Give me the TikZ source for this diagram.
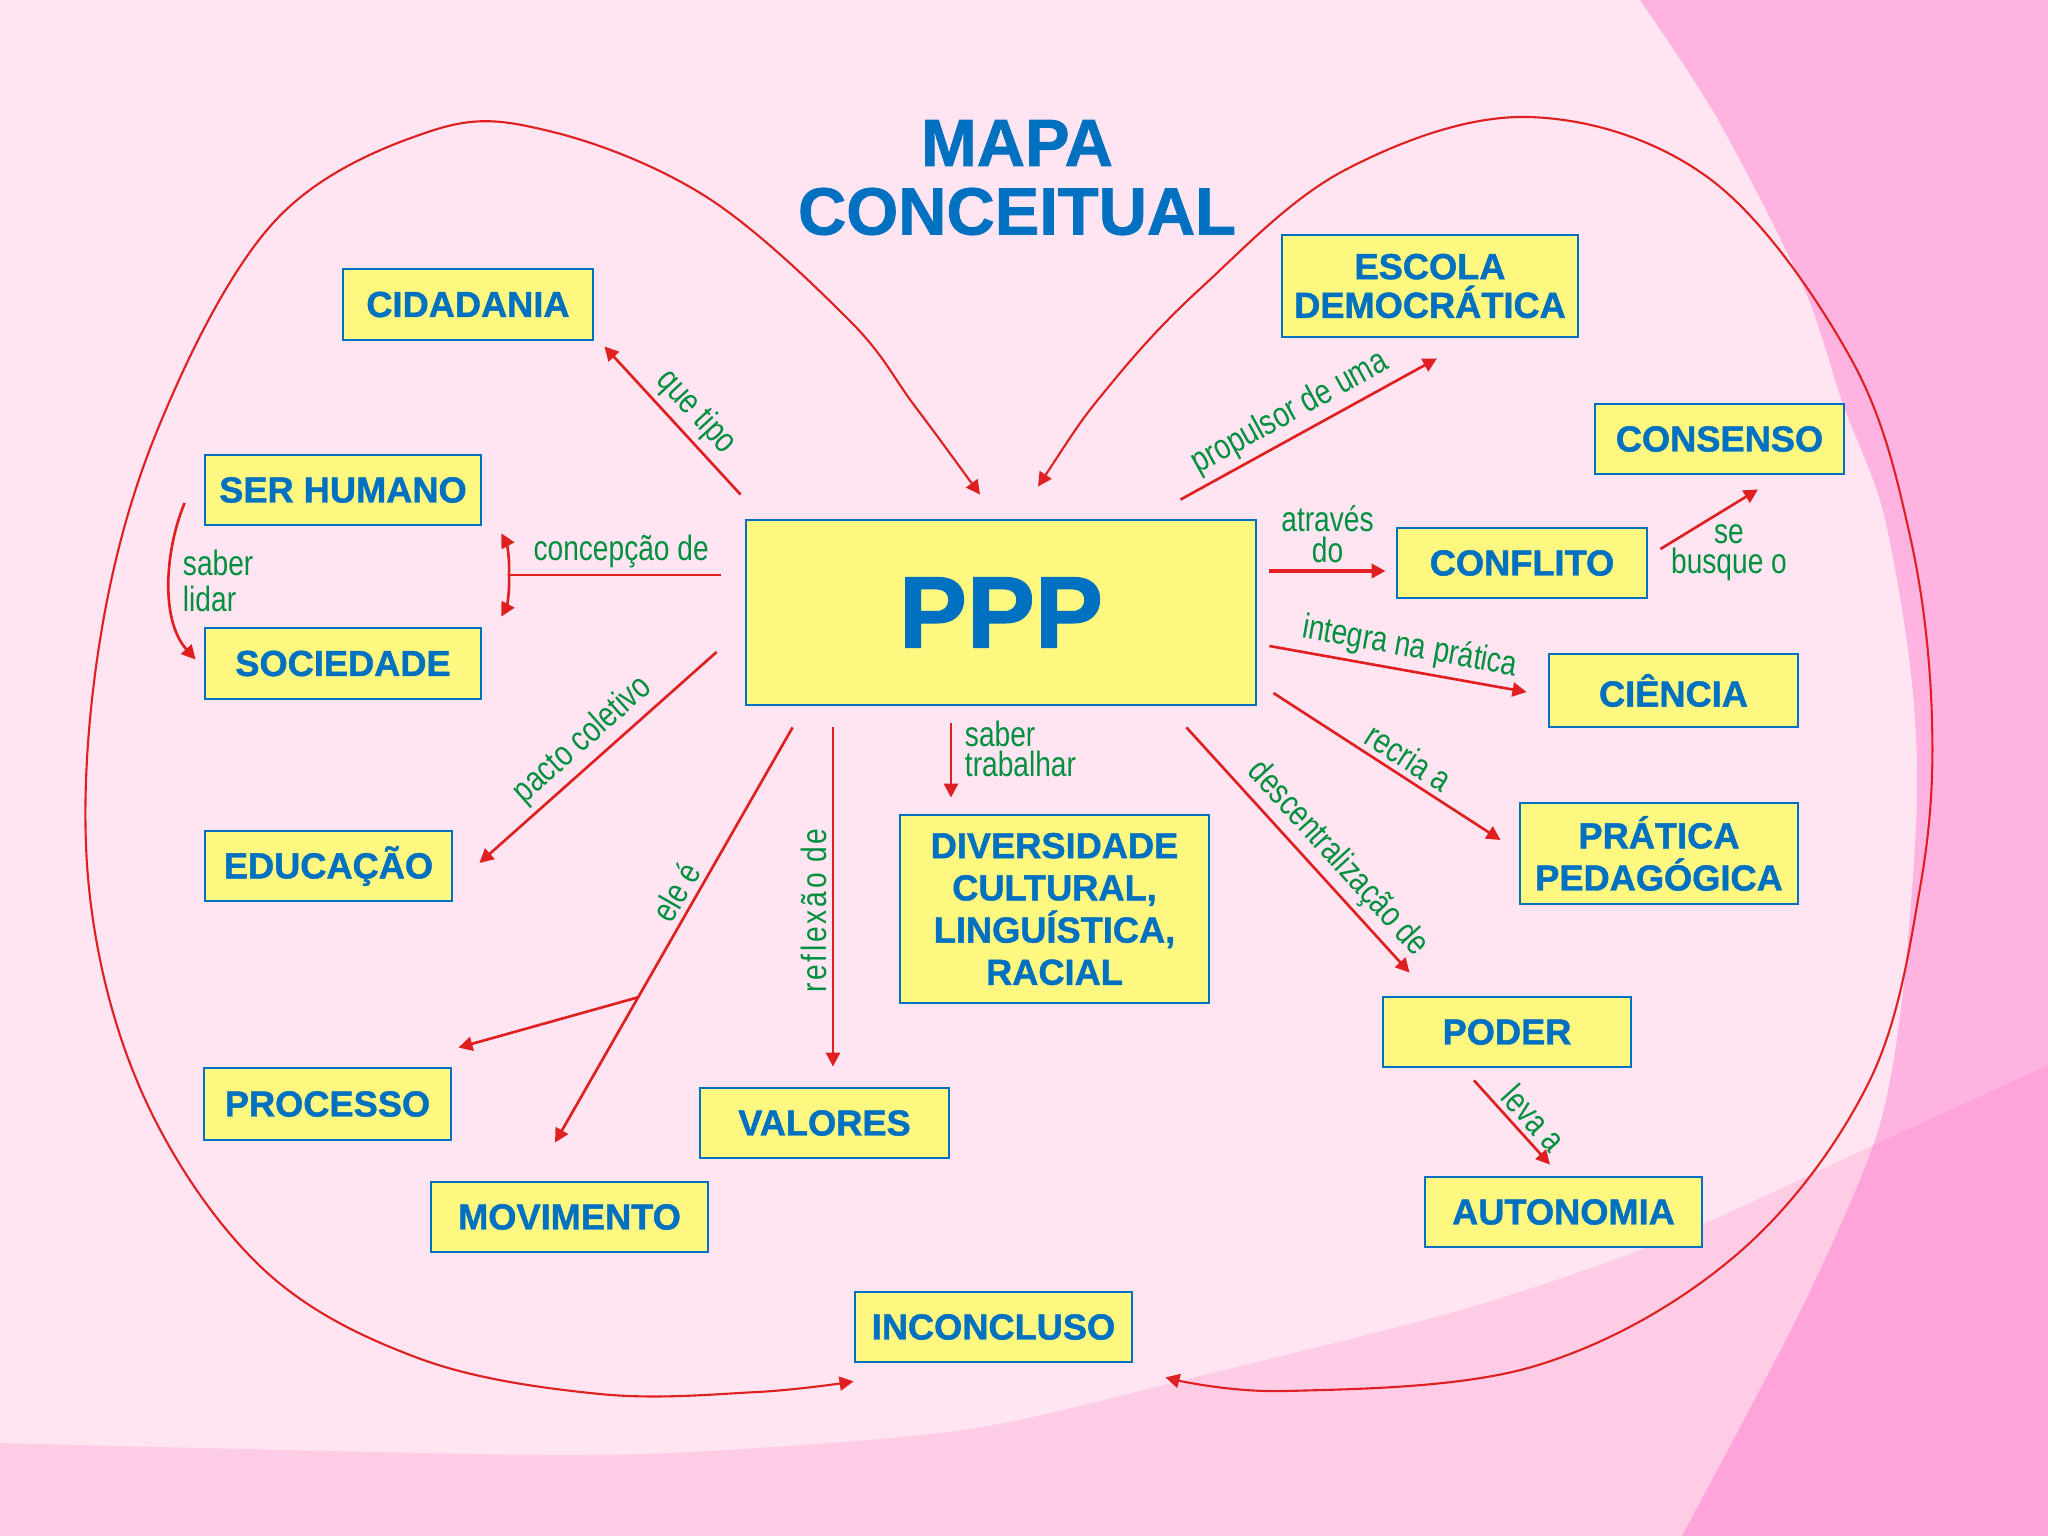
\documentclass[tikz,border=0pt]{standalone}
\usepackage{fontspec}
\setmainfont{Liberation Sans}[BoldFeatures={FakeBold=1.2}]
\newfontfamily\lblfont{Liberation Sans}[FakeStretch=0.8]
\usetikzlibrary{arrows.meta,calc}
\definecolor{bgpink}{HTML}{FFE4F1}
\definecolor{bandpink}{HTML}{FFCCE6}
\definecolor{darkpink}{HTML}{FFB3E0}
\definecolor{darkestpink}{HTML}{FFA3DB}
\definecolor{byellow}{HTML}{FFF880}
\definecolor{bblue}{HTML}{0070C0}
\definecolor{ared}{HTML}{E02020}
\definecolor{lgreen}{HTML}{00903F}
\tikzset{
  box/.style={draw=bblue, line width=0.8pt, fill=byellow, text=bblue, inner sep=0pt,
    align=center, font=\bfseries\fontsize{10.3}{12}\selectfont},
  bx/.style 2 args={minimum width=#1*0.01cm, minimum height=#2*0.01cm},
  arr/.style={draw=ared, line width=0.75pt, -{Triangle[length=4pt,width=4pt]}},
  loopline/.style={draw=ared, line width=0.6pt, {Triangle[length=4pt,width=4pt]}-{Triangle[length=4pt,width=4pt]}},
  lbl/.style={text=lgreen, font=\lblfont\fontsize{10}{10}\selectfont, inner sep=1.5pt},
  titletext/.style={text=bblue, font=\bfseries\fontsize{19}{20}\selectfont, inner sep=0pt}
}
\begin{document}
\begin{tikzpicture}[x=0.01cm,y=-0.01cm]
% background
\fill[bgpink] (0,0) rectangle (2048,1536);
\fill[bandpink] plot[smooth] coordinates {(0,1443) (547,1455) (772,1447) (982,1427) (1200,1376) (1468,1308) (1668,1239) (1876,1144) (2048,1065)} -- (2048,1536) -- (0,1536) -- cycle;
\fill[darkpink] plot[smooth] coordinates {(1640,0) (1717,118) (1803,286) (1843,404) (1883,511) (1910,665) (1917,801) (1902,1000) (1876,1137) (1802,1308) (1682,1536)} -- (2048,1536) -- (2048,0) -- cycle;
\begin{scope}
\clip plot[smooth] coordinates {(0,1443) (547,1455) (772,1447) (982,1427) (1200,1376) (1468,1308) (1668,1239) (1876,1144) (2048,1065)} -- (2048,1536) -- (0,1536) -- cycle;
\fill[darkestpink] plot[smooth] coordinates {(1640,0) (1717,118) (1803,286) (1843,404) (1883,511) (1910,665) (1917,801) (1902,1000) (1876,1137) (1802,1308) (1682,1536)} -- (2048,1536) -- (2048,0) -- cycle;
\end{scope}

% title
\node[titletext] (t1) at (1017,143) {MAPA};
\node[titletext] (t2) at (1017,211.5) {CONCEITUAL};

% boxes
\node[box, bx={510}{185}, font=\bfseries\fontsize{29}{30}\selectfont] (ppp) at (1001,612.5) {PPP};
\node[box, bx={250}{71}] (cid) at (468,304.5) {CIDADANIA};
\node[box, bx={276}{70}] (ser) at (343,490) {SER HUMANO};
\node[box, bx={276}{71}] (soc) at (343,663.5) {SOCIEDADE};
\node[box, bx={247}{70}] (edu) at (328.5,866) {EDUCAÇÃO};
\node[box, bx={247}{72}] (pro) at (327.5,1104) {PROCESSO};
\node[box, bx={277}{70}] (mov) at (569.5,1217) {MOVIMENTO};
\node[box, bx={249}{70}] (val) at (824.5,1123) {VALORES};
\node[box, bx={277}{70}] (inc) at (993.5,1327) {INCONCLUSO};
\node[box, bx={309}{188}] (div) at (1054.5,909) {DIVERSIDADE\\CULTURAL,\\LINGUÍSTICA,\\RACIAL};
\node[box, bx={296}{102}, font=\bfseries\fontsize{10.3}{11}\selectfont] (esc) at (1430,286) {ESCOLA\\DEMOCRÁTICA};
\node[box, bx={249}{70}] (cns) at (1719.5,439) {CONSENSO};
\node[box, bx={250}{70}] (con) at (1522,563) {CONFLITO};
\node[box, bx={249}{73}] (cie) at (1673.5,690.5) {CIÊNCIA};
\node[box, bx={278}{101}] (pra) at (1659,853.5) {PRÁTICA\\PEDAGÓGICA};
\node[box, bx={248}{70}] (pod) at (1507,1032) {PODER};
\node[box, bx={277}{70}] (aut) at (1563.5,1212) {AUTONOMIA};

% connectors
\draw[arr] ([shift={(-4,-24)}]ppp.north west) -- node[lbl, sloped, above, pos=0.45] (lq) {que tipo} ([shift={(10,5)}]cid.south east);

\coordinate (cj) at (509,575);
\draw[draw=ared, line width=0.75pt] ([shift={(-24,-37.5)}]ppp.west) -- node[lbl, above, pos=0.47] (lc) {concepção de} (cj);
\draw[arr] (cj) .. controls (510,555) and (506,542) .. ([shift={(19,7)}]ser.south east);
\draw[arr] (cj) .. controls (510,595) and (506,608) .. ([shift={(19,-10)}]soc.north east);

\draw[arr] ([shift={(-19,13)}]ser.west) .. controls (165,550) and (160,620) .. ([shift={(-8,-4)}]soc.west);
\node[lbl, anchor=west, align=left] (ls) at (177,581) {saber\\lidar};

\draw[arr] ([shift={(-28,39.5)}]ppp.west) -- node[lbl, sloped, above, pos=0.5] (lp) {pacto coletivo} ([shift={(26,-3)}]edu.east);

\draw[arr] ([shift={(48,21)}]ppp.south west) -- node[lbl, sloped, above, pos=0.42] (le) {ele é} coordinate[pos=0.65] (jn) ([shift={(-14.5,-38)}]mov.north);
\draw[arr] (jn) -- ([shift={(6,-19)}]pro.north east);

\draw[arr] ([shift={(-168,21)}]ppp.south) -- node[lbl, pos=0.54, rotate=90, anchor=south] (lr) {\addfontfeature{LetterSpace=8}reflexão de} ([shift={(8.5,-20)}]val.north);

\draw[arr] ([shift={(-50,17)}]ppp.south) -- ([shift={(-103.5,-16)}]div.north);
\node[lbl, anchor=west, align=left, font=\lblfont\fontsize{10}{8.5}\selectfont] (lt) at (959,749) {saber\\trabalhar};

\draw[arr] ([shift={(-71,21)}]ppp.south east) -- node[lbl, sloped, above, pos=0.6] (ld) {descentralização de} ([shift={(28,-23)}]pod.north west);

\draw[arr] ([shift={(16,80.5)}]ppp.east) -- node[lbl, sloped, above, pos=0.55] (lrc) {recria a} ([shift={(-18,-13.5)}]pra.west);

\draw[arr] ([shift={(12,33.5)}]ppp.east) -- node[lbl, sloped, above, pos=0.53] (li) {integra na prática} ([shift={(-21,1.5)}]cie.west);

\draw[arr, line width=1.4pt] ([shift={(12,-41.5)}]ppp.east) -- node[lbl, above, align=center, pos=0.5, font=\lblfont\fontsize{10}{9}\selectfont] (la) {através\\do} ([shift={(-10,8)}]con.west);

\draw[arr] ([shift={(12,-14)}]con.east) -- ([shift={(38.5,14)}]cns.south);
\node[lbl, align=center, font=\lblfont\fontsize{10}{8.5}\selectfont] (lb) at (1729,553) {se\\busque o};

\draw[arr] ([shift={(-77,-19)}]ppp.north east) -- node[lbl, sloped, above, pos=0.47] (lu) {propulsor de uma} ([shift={(7,20)}]esc.south);

\draw[arr] ([shift={(-33,12)}]pod.south) -- node[lbl, sloped, above, pos=0.6] (ll) {leva a} ([shift={(-13.5,-11)}]aut.north);

% big loops
\draw[loopline] plot[smooth, tension=0.6] coordinates {([shift={(-21,-24)}]ppp.north) (914,405) (849,320) (705,196) (549,131) (431,131) (274,222) (157,431) (98,653) (89,888) (144,1097) (261,1267) (418,1358) (600,1394) (757,1392) ([shift={(0,18)}]inc.south west)};
\draw[loopline] plot[smooth, tension=0.6] coordinates {([shift={(37,-32)}]ppp.north) (1110,385) (1202,287) (1345,170) (1528,117) (1710,179) (1850,357) (1910,536) (1932,720) (1920,888) (1868,1084) (1735,1256) (1535,1366) (1287,1391) ([shift={(32,14)}]inc.south east)};
\end{tikzpicture}
\end{document}
